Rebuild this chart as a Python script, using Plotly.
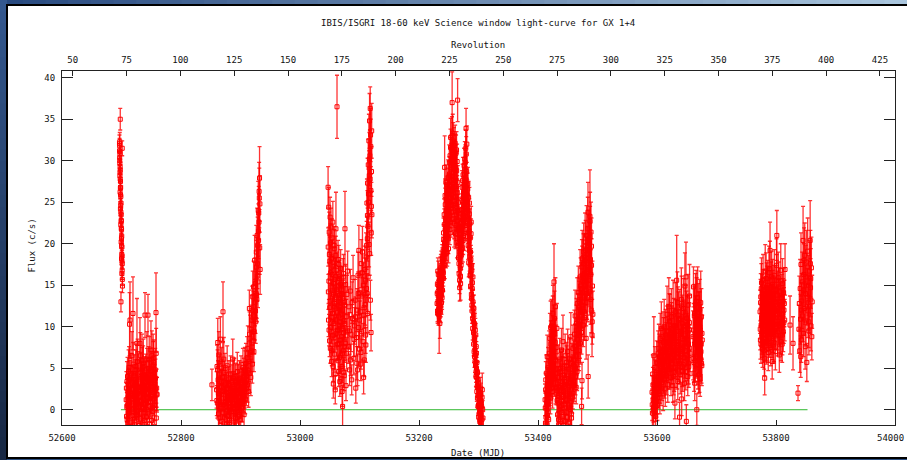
import plotly.graph_objects as go

# ---- IBIS/ISGRI light curve of GX 1+4: MJD, flux (c/s), 1-sigma error ----
# one block per visibility window (a second block "x" per window holds the
# remaining science windows of the same period)

mjd_w1 = [52696.6, 52696.8, 52696.9, 52697.1, 52697.2, 52697.4, 52697.5, 52697.7, 52697.8, 52698.0,
          52698.1, 52698.3, 52698.4, 52698.6, 52698.7, 52698.9, 52699.0, 52699.2, 52699.3, 52699.5,
          52699.6, 52699.8, 52699.9, 52700.1, 52700.2, 52700.4, 52700.5, 52700.7, 52700.8, 52701.0,
          52701.1, 52701.3, 52701.4, 52701.6, 52697.9, 52699.1]
flux_w1 = [32.1, 31.8, 30.4, 32.3, 29.7, 30.9, 28.6, 29.3, 27.8, 28.9,
           26.7, 27.5, 25.9, 26.8, 24.6, 25.7, 23.8, 24.9, 22.7, 23.5,
           21.9, 22.8, 20.6, 21.7, 19.8, 20.9, 18.7, 19.6, 17.9, 18.5,
           16.8, 17.6, 15.7, 14.9, 35.0, 13.0]
err_w1 = [1.0, 0.9, 0.9, 1.1, 0.8, 0.9, 0.8, 0.9, 0.8, 0.9,
          0.8, 0.8, 0.8, 0.9, 0.8, 0.8, 0.7, 0.8, 0.7, 0.8,
          0.7, 0.8, 0.7, 0.7, 0.7, 0.8, 0.7, 0.7, 0.7, 0.7,
          0.6, 0.7, 0.7, 0.8, 1.3, 1.2]
mjd_w1x = [52696.7, 52697.0, 52697.3, 52697.6, 52698.2, 52698.8, 52699.4, 52700.0, 52700.6, 52701.2]
flux_w1x = [31.2, 30.0, 28.2, 26.2, 24.2, 22.3, 20.2, 18.2, 16.4, 31.5]
err_w1x = [0.9, 0.9, 0.8, 0.8, 0.8, 0.7, 0.7, 0.7, 0.7, 0.9]

mjd_w2 = [52707.9, 52708.5, 52709.2, 52709.7, 52710.5, 52711.1, 52711.9, 52712.3, 52713.0, 52714.3,
          52714.9, 52715.6, 52717.6, 52718.0, 52719.3, 52719.9, 52720.4, 52721.2, 52721.8, 52722.5,
          52723.1, 52723.9, 52724.4, 52725.2, 52726.0, 52726.6, 52727.3, 52727.8, 52728.6, 52731.0,
          52729.7, 52731.6, 52732.2, 52732.9, 52733.5, 52734.1, 52734.8, 52735.4, 52736.1, 52736.7,
          52737.3, 52738.0, 52738.6, 52739.5, 52740.1, 52740.8, 52741.4, 52742.0, 52742.7, 52743.3,
          52744.5, 52745.0, 52745.7, 52746.3, 52746.9, 52747.6, 52748.2, 52748.8, 52749.5, 52750.1,
          52751.0, 52751.6, 52752.2, 52752.9, 52753.5, 52754.1, 52754.8, 52755.4, 52756.0, 52756.7,
          52757.3, 52758.0, 52758.5, 52759.1, 52759.6, 52713.6, 52725.6, 52734.4, 52747.1, 52753.2]
flux_w2 = [1.2, -0.8, 3.4, 0.5, -1.6, 2.1, 4.6, 0.9, -0.3, 10.8,
           1.7, 3.0, 6.5, -2.2, 11.6, 2.4, 0.2, 4.1, -1.1, 1.5,
           3.6, 0.7, 5.2, -0.6, 8.0, 2.7, 1.1, 4.4, 0.3, 8.0,
           -1.9, 6.5, 2.2, 3.8, 1.0, -0.4, 4.9, 2.6, 0.6, 5.6,
           1.9, -1.3, 3.3, 11.4, 0.8, 4.2, 2.0, -0.9, 6.1, 2.9,
           11.4, 1.4, 5.0, 3.5, -1.7, 0.4, 4.7, 2.3, 7.2, 1.6,
           6.5, 3.9, -0.2, 2.8, 5.4, 1.3, 4.0, 0.1, 3.1, 4.8,
           2.5, 11.7, -1.0, 2.6, 1.8, 10.3, 0.9, 5.9, 3.7, 6.2]
err_w2 = [2.1, 1.8, 2.4, 1.9, 1.7, 2.2, 2.6, 1.9, 1.8, 4.6,
          2.0, 2.3, 2.9, 1.6, 4.4, 2.2, 1.9, 2.5, 1.8, 2.0,
          2.4, 1.9, 2.7, 1.8, 5.4, 2.3, 2.0, 2.6, 1.9, 3.1,
          1.7, 2.8, 2.1, 2.4, 2.0, 1.8, 2.6, 2.2, 1.9, 2.9,
          2.1, 1.7, 2.4, 2.7, 1.9, 2.5, 2.2, 1.8, 3.3, 2.3,
          2.5, 2.0, 2.6, 2.4, 1.7, 1.9, 2.7, 2.2, 3.5, 2.0,
          3.0, 2.4, 1.8, 2.3, 2.8, 2.0, 2.5, 1.9, 2.3, 2.6,
          2.2, 4.8, 1.8, 2.3, 2.1, 3.8, 1.9, 3.2, 2.5, 2.9]
mjd_w2x = [52708.2, 52709.0, 52709.5, 52710.1, 52710.8, 52711.5, 52712.1, 52712.7, 52713.3, 52714.0,
           52714.6, 52715.3, 52716.0, 52716.6, 52717.2, 52718.4, 52719.0, 52719.6, 52720.9, 52721.5,
           52722.2, 52722.8, 52723.5, 52724.1, 52724.8, 52725.9, 52726.3, 52727.0, 52728.2, 52729.0,
           52729.3, 52730.4, 52731.3, 52732.6, 52733.2, 52734.4, 52735.1, 52735.7, 52736.4, 52737.6,
           52738.3, 52739.2, 52740.4, 52741.1, 52741.7, 52742.4, 52743.0, 52743.9, 52745.3, 52746.6,
           52748.5, 52749.2, 52750.5, 52751.3, 52752.6, 52754.4, 52755.7, 52757.0, 52758.3, 52759.4]
flux_w2x = [2.6, 0.3, -1.2, 4.0, 1.4, -0.4, 2.9, 5.1, 0.8, 3.7,
            -1.5, 1.9, 4.4, 0.0, 2.5, 3.2, -0.7, 5.5, 1.6, 3.0,
            -1.8, 2.2, 0.6, 4.8, 1.3, 3.4, -0.2, 5.8, 2.0, 0.4,
            3.6, 1.1, -1.0, 4.5, 2.7, 0.2, 3.1, -1.6, 5.2, 1.8,
            4.1, 0.7, 2.4, -0.8, 3.9, 1.5, 4.9, 0.0, 2.8, 6.0,
            1.0, 3.3, -1.3, 4.6, 2.1, 5.7, 0.5, 3.8, 6.8, 1.9]
err_w2x = [2.0, 1.8, 1.7, 2.3, 1.9, 1.8, 2.1, 2.5, 1.9, 2.2,
           1.7, 2.0, 2.4, 1.8, 2.1, 2.2, 1.8, 2.6, 1.9, 2.1,
           1.7, 2.0, 1.8, 2.4, 1.9, 2.2, 1.8, 2.7, 2.0, 1.8,
           2.3, 1.9, 1.7, 2.4, 2.1, 1.8, 2.2, 1.7, 2.5, 2.0,
           2.3, 1.8, 2.1, 1.8, 2.3, 1.9, 2.5, 1.8, 2.1, 2.8,
           1.9, 2.2, 1.7, 2.4, 2.0, 2.7, 1.8, 2.3, 3.0, 2.0]

mjd_w3 = [52852.0, 52859.8, 52860.5, 52861.1, 52861.8, 52862.4, 52863.0, 52863.7, 52864.3, 52864.9,
          52865.6, 52866.2, 52866.8, 52867.5, 52868.1, 52868.7, 52869.4, 52870.6, 52871.2, 52871.9,
          52872.5, 52873.1, 52873.8, 52874.4, 52875.0, 52875.7, 52876.3, 52876.9, 52877.6, 52878.2,
          52878.8, 52879.5, 52880.1, 52880.7, 52881.4, 52882.0, 52882.6, 52883.3, 52883.9, 52884.5,
          52885.2, 52885.8, 52887.0, 52887.6, 52888.3, 52888.9, 52889.5, 52890.2, 52890.8, 52891.4,
          52892.1, 52892.7, 52893.3, 52894.0, 52894.6, 52895.2, 52895.9, 52896.5, 52897.1, 52897.8,
          52898.4, 52899.0, 52899.7, 52900.3, 52900.9, 52901.6, 52902.2, 52902.8, 52903.5, 52904.1,
          52904.7, 52905.4, 52906.0, 52906.6, 52907.3, 52907.9, 52908.5, 52909.2, 52909.8, 52910.4,
          52911.1, 52911.7, 52912.3, 52913.0, 52913.6, 52914.2, 52914.9, 52915.5, 52916.1, 52916.8,
          52917.4, 52918.0, 52918.7, 52919.3, 52919.9, 52920.6, 52921.2, 52921.8, 52922.5, 52923.1,
          52923.7, 52924.4, 52925.0, 52925.6, 52926.3, 52926.9, 52927.5, 52928.2, 52928.8, 52929.4,
          52930.1, 52930.7, 52931.3, 52932.0, 52932.6, 52928.5, 52930.4, 52931.0, 52927.2, 52925.3]
flux_w3 = [3.0, 2.4, 5.2, 0.8, 8.1, 3.6, -0.5, 6.6, 1.9, 4.3,
           0.2, 8.5, 2.8, -1.4, 5.0, 1.3, 3.9, 11.8, 0.6, 6.1,
           2.2, -0.9, 4.5, 1.0, 3.2, -1.8, 2.5, 0.4, 5.3, 1.6,
           -0.7, 2.9, 0.9, 3.7, -1.5, 1.8, 0.3, 4.2, 2.1, -0.4,
           1.4, 3.3, 6.1, 0.7, -1.1, 2.6, 4.0, 1.2, -0.2, 3.5,
           0.5, 2.3, -1.7, 1.9, 4.6, 0.1, 2.8, 3.4, -0.8, 1.5,
           3.8, 0.8, 2.0, -1.2, 4.3, 1.1, 3.0, 0.2, 2.4, 5.1,
           1.7, 3.6, -0.6, 2.7, 4.9, 1.3, 3.2, 5.6, 2.5, 4.1,
           6.3, 3.0, 7.4, 4.7, 2.2, 5.8, 12.2, 4.4, 8.6, 6.9,
           3.9, 9.7, 7.1, 10.8, 5.5, 13.6, 8.3, 11.4, 7.0, 9.4,
           18.0, 12.9, 15.2, 10.6, 14.0, 17.2, 13.3, 16.1, 19.8, 15.4,
           21.5, 23.7, 26.3, 27.9, 24.8, 17.6, 20.4, 22.6, 13.8, 11.9]
err_w3 = [1.9, 2.2, 2.6, 1.8, 2.9, 2.3, 1.7, 2.8, 2.0, 2.4,
          1.8, 2.7, 2.1, 1.6, 2.5, 1.9, 2.2, 3.6, 1.8, 2.6,
          2.0, 1.7, 2.3, 1.8, 2.1, 1.6, 2.0, 1.8, 2.4, 1.9,
          1.7, 2.0, 1.8, 2.2, 1.6, 1.9, 1.7, 2.3, 2.0, 1.7,
          1.9, 2.1, 2.4, 1.8, 1.6, 2.0, 2.2, 1.9, 1.7, 2.1,
          1.8, 2.0, 1.6, 1.9, 2.3, 1.7, 2.0, 2.1, 1.7, 1.9,
          2.1, 1.8, 1.9, 1.6, 2.2, 1.8, 2.0, 1.7, 1.9, 2.3,
          1.9, 2.1, 1.7, 2.0, 2.6, 1.8, 2.2, 2.4, 2.0, 2.3,
          2.5, 2.1, 2.7, 2.3, 1.9, 2.4, 2.2, 2.3, 2.8, 2.6,
          2.2, 2.9, 2.5, 3.0, 2.3, 3.1, 2.6, 2.9, 2.4, 2.7,
          3.0, 2.8, 3.1, 2.6, 2.9, 3.2, 2.7, 3.0, 3.4, 3.1,
          3.3, 3.2, 3.5, 3.8, 3.4, 3.0, 3.2, 3.3, 2.8, 2.7]
mjd_w3x = [52860.2, 52861.5, 52862.8, 52864.0, 52865.2, 52866.5, 52867.8, 52869.0, 52870.2, 52871.5,
           52872.8, 52874.0, 52875.3, 52876.6, 52877.9, 52879.2, 52880.4, 52881.7, 52883.0, 52884.2,
           52885.5, 52886.7, 52888.0, 52889.2, 52890.5, 52891.7, 52893.0, 52894.3, 52895.6, 52896.8,
           52898.1, 52899.3, 52900.6, 52901.9, 52903.2, 52904.4, 52905.7, 52907.0, 52908.2, 52909.5,
           52915.2, 52919.6, 52922.0, 52924.0, 52926.6, 52928.0, 52929.8, 52931.6, 52932.3, 52933.0]
flux_w3x = [1.1, 4.8, 2.0, -1.0, 3.4, 0.6, 2.7, -0.4, 5.6, 1.8,
            -1.6, 3.0, 0.9, 2.1, -0.8, 1.5, 3.1, -1.3, 0.8, 2.6,
            -0.2, 1.9, 3.8, 0.1, 2.3, -1.0, 1.2, 3.3, 0.5, 2.0,
            -0.6, 1.6, 3.5, 0.3, 2.8, 1.0, 3.9, 2.2, 4.7, 3.6,
            9.1, 12.0, 14.8, 11.2, 19.0, 21.0, 24.0, 25.5, 19.5, 16.9]
err_w3x = [1.8, 2.4, 1.9, 1.7, 2.2, 1.8, 2.1, 1.7, 2.5, 1.9,
           1.6, 2.1, 1.8, 2.0, 1.7, 1.9, 2.1, 1.6, 1.8, 2.0,
           1.7, 1.9, 2.2, 1.7, 2.0, 1.6, 1.8, 2.1, 1.7, 1.9,
           1.7, 1.9, 2.2, 1.7, 2.1, 1.8, 2.3, 2.0, 2.4, 2.2,
           2.7, 2.9, 3.1, 2.8, 3.2, 3.3, 3.5, 3.6, 3.2, 3.0]

mjd_w4 = [53047.2, 53047.7, 53048.3, 53048.8, 53049.4, 53049.9, 53050.5, 53051.0, 53051.6, 53052.1,
          53052.7, 53053.2, 53053.8, 53054.3, 53054.9, 53055.4, 53056.0, 53056.5, 53057.1, 53057.6,
          53058.2, 53058.7, 53059.3, 53059.8, 53060.4, 53060.9, 53061.5, 53062.2, 53062.8, 53063.3,
          53063.9, 53064.4, 53065.0, 53065.5, 53066.1, 53066.6, 53067.2, 53067.7, 53068.3, 53068.8,
          53069.4, 53069.9, 53070.5, 53071.0, 53071.6, 53072.1, 53072.7, 53073.2, 53073.8, 53074.3,
          53074.9, 53075.6, 53076.2, 53076.7, 53077.3, 53077.8, 53078.4, 53078.9, 53079.5, 53080.0,
          53081.1, 53082.3, 53083.4, 53084.6, 53085.7, 53086.9, 53088.0, 53089.2, 53090.3, 53091.5,
          53092.6, 53093.8, 53094.9, 53096.0, 53096.8, 53097.5, 53098.3, 53099.0, 53099.8, 53100.5,
          53101.3, 53102.0, 53102.8, 53103.5, 53104.3, 53105.0, 53105.8, 53106.5, 53107.3, 53108.0,
          53108.8, 53109.5, 53110.3, 53111.0, 53111.8, 53112.5, 53113.1, 53113.6, 53114.2, 53114.7,
          53115.3, 53115.8, 53116.4, 53116.9, 53117.5, 53118.0, 53118.6, 53119.1, 53119.7, 53120.2,
          53120.8, 53117.2, 53118.3, 53116.1, 53119.4, 53114.5, 53113.9, 53112.8, 53110.7, 53106.9]
flux_w4 = [26.8, 14.2, 24.4, 9.6, 18.7, 12.3, 23.2, 7.4, 16.5, 22.0,
           11.1, 5.8, 20.7, 13.6, 8.9, 17.3, 3.1, 15.2, 10.4, 19.4,
           6.7, 12.8, 2.4, 16.0, 21.8, 9.2, 14.5, 36.5, 11.7, 7.9,
           18.1, 13.0, 4.6, 10.2, 15.8, 6.3, 12.1, 8.4, 17.0, 3.7,
           11.5, 14.9, 5.2, 9.8, 0.4, 13.4, 7.1, 16.4, 10.7, 4.1,
           12.6, 21.8, 8.0, 15.1, 2.9, 11.2, 6.8, 13.9, 9.5, 16.7,
           7.6, 12.4, 4.8, 14.3, 9.1, 3.6, 11.0, 15.9, 6.2, 10.1,
           13.2, 2.6, 8.7, 12.0, 4.8, 16.2, 9.9, 19.2, 7.3, 14.1,
           11.8, 5.5, 17.6, 9.4, 13.7, 19.0, 8.2, 15.0, 11.4, 6.0,
           16.9, 12.7, 9.0, 18.4, 14.6, 24.9, 20.6, 27.3, 22.1, 29.5,
           25.0, 32.4, 28.2, 34.8, 30.6, 36.3, 33.1, 26.4, 21.3, 28.7,
           23.5, 18.8, 13.2, 19.9, 9.3, 16.0, 11.6, 14.0, 7.8, 3.9]
err_w4 = [2.5, 2.1, 2.4, 1.9, 2.3, 2.0, 2.4, 1.8, 2.2, 2.3,
          2.0, 1.8, 2.3, 2.1, 1.9, 2.2, 1.7, 2.1, 2.0, 2.3,
          1.8, 2.1, 1.7, 2.2, 4.4, 1.9, 2.1, 3.8, 2.0, 1.9,
          2.3, 2.1, 1.8, 2.0, 2.2, 1.9, 2.1, 1.9, 2.3, 1.8,
          2.1, 2.3, 1.9, 2.0, 2.5, 2.2, 1.9, 2.3, 2.0, 1.8,
          2.2, 4.5, 2.0, 2.4, 1.8, 2.1, 1.9, 2.3, 2.0, 2.4,
          2.0, 2.4, 1.9, 2.6, 2.1, 1.8, 2.3, 2.7, 2.0, 2.2,
          2.5, 1.8, 2.2, 2.6, 1.9, 2.8, 2.3, 3.0, 2.1, 2.6,
          2.4, 2.0, 2.9, 2.2, 2.6, 3.1, 2.2, 2.7, 2.4, 2.0,
          2.8, 2.5, 2.2, 2.9, 2.6, 2.9, 2.7, 3.0, 2.8, 3.1,
          2.9, 3.2, 3.0, 3.3, 3.1, 2.6, 3.2, 2.9, 2.7, 3.0,
          2.8, 2.6, 2.4, 2.7, 2.2, 2.5, 2.3, 2.4, 2.1, 2.0]
mjd_w4x = [53047.4, 53048.0, 53048.6, 53049.1, 53049.7, 53050.2, 53050.8, 53051.3, 53051.9, 53052.4,
           53053.0, 53053.5, 53054.1, 53054.6, 53055.2, 53055.7, 53056.3, 53056.8, 53057.4, 53057.9,
           53058.5, 53059.0, 53059.6, 53060.1, 53060.7, 53061.2, 53061.8, 53063.0, 53063.6, 53064.1,
           53064.7, 53065.3, 53065.8, 53066.4, 53066.9, 53067.5, 53068.0, 53068.6, 53069.1, 53069.7,
           53070.2, 53070.8, 53071.3, 53071.9, 53072.4, 53073.0, 53073.5, 53074.1, 53074.6, 53075.2,
           53082.9, 53085.1, 53087.5, 53090.9, 53093.2, 53095.5, 53097.9, 53100.2, 53102.4, 53104.7,
           53107.7, 53109.9, 53112.0, 53113.3, 53115.0, 53116.6, 53117.8, 53119.0, 53120.0, 53120.5]
flux_w4x = [19.6, 10.8, 15.5, 21.4, 8.3, 17.9, 13.1, 20.1, 9.9, 14.8,
            18.2, 7.1, 16.3, 11.6, 22.6, 5.2, 13.9, 9.0, 19.8, 12.4,
            15.7, 4.3, 10.8, 18.6, 7.8, 13.5, 16.8, 9.6, 14.2, 5.9,
            11.3, 17.5, 7.9, 13.8, 3.4, 10.6, 15.1, 6.5, 12.9, 8.8,
            14.0, 2.2, 11.9, 6.8, 16.0, 9.3, 4.5, 13.1, 7.6, 10.4,
            9.5, 6.0, 12.9, 8.5, 11.2, 5.6, 14.0, 10.8, 6.9, 16.5,
            12.3, 15.6, 19.8, 23.4, 26.0, 30.2, 27.8, 31.7, 24.5, 33.6]
err_w4x = [2.3, 2.0, 2.2, 2.4, 1.9, 2.3, 2.1, 2.3, 1.9, 2.1,
           2.2, 1.8, 2.2, 2.0, 2.5, 1.8, 2.1, 1.9, 2.3, 2.0,
           2.2, 1.8, 2.0, 2.3, 1.9, 2.1, 2.2, 1.9, 2.1, 1.8,
           2.0, 2.3, 1.9, 2.1, 1.8, 2.0, 2.2, 1.9, 2.1, 1.9,
           2.1, 1.8, 2.1, 1.9, 2.2, 2.0, 1.8, 2.1, 1.9, 2.0,
           2.2, 1.9, 2.5, 2.1, 2.4, 2.0, 2.6, 2.3, 2.0, 2.8,
           2.5, 2.7, 2.9, 3.0, 3.0, 3.2, 3.1, 3.3, 2.9, 3.3]

mjd_w5 = [53230.4, 53230.9, 53231.4, 53231.9, 53232.4, 53232.9, 53233.4, 53233.9, 53234.4, 53235.0,
          53235.5, 53236.0, 53236.5, 53237.0, 53237.5, 53238.0, 53238.5, 53239.0, 53239.5, 53240.0,
          53240.5, 53241.0, 53241.5, 53242.0, 53242.5, 53243.1, 53243.6, 53244.1, 53244.6, 53245.1,
          53245.6, 53246.1, 53246.6, 53247.1, 53247.6, 53248.1, 53248.6, 53249.1, 53249.6, 53250.1,
          53250.6, 53251.2, 53251.7, 53252.2, 53252.7, 53253.2, 53253.7, 53254.2, 53254.7, 53255.2,
          53255.7, 53256.2, 53256.7, 53257.2, 53257.7, 53258.2, 53258.8, 53259.3, 53259.8, 53260.3,
          53260.8, 53261.3, 53261.8, 53262.3, 53262.8, 53263.3, 53263.8, 53264.3, 53264.9, 53265.4,
          53265.9, 53266.4, 53266.9, 53267.4, 53267.9, 53268.4, 53268.9, 53269.4, 53269.9, 53270.4,
          53270.9, 53271.4, 53272.0, 53272.5, 53273.0, 53273.5, 53274.0, 53274.5, 53275.0, 53275.5,
          53276.0, 53276.5, 53277.0, 53277.5, 53278.1, 53278.6, 53279.1, 53279.6, 53280.1, 53280.6,
          53281.1, 53281.6, 53282.1, 53282.6, 53283.1, 53283.6, 53284.2, 53284.7, 53285.2, 53285.7,
          53286.2, 53286.7, 53287.2, 53287.7, 53288.2, 53288.7, 53289.2, 53289.8, 53290.3, 53290.8,
          53291.3, 53291.8, 53292.3, 53292.8, 53293.3, 53293.8, 53294.3, 53294.9, 53295.4, 53295.9,
          53296.4, 53296.9, 53297.4, 53297.9, 53298.4, 53298.9, 53299.4, 53300.0, 53300.5, 53301.0,
          53301.5, 53302.0, 53302.5, 53303.0, 53303.5, 53304.0, 53304.6, 53305.2, 53306.3, 53307.5]
flux_w5 = [12.8, 15.1, 11.6, 14.2, 16.3, 12.1, 13.7, 11.2, 15.6, 10.4,
           13.3, 16.8, 12.5, 14.9, 17.4, 13.8, 15.7, 18.2, 14.4, 16.9,
           19.1, 15.8, 20.5, 17.6, 22.3, 29.2, 18.9, 24.7, 21.4, 27.4,
           19.7, 25.3, 22.0, 23.6, 20.8, 26.1, 22.8, 24.2, 19.4, 27.8,
           23.9, 28.4, 21.7, 30.6, 25.5, 32.8, 24.3, 29.5, 26.9, 31.4,
           37.0, 28.1, 33.3, 24.6, 30.2, 27.3, 31.8, 22.4, 29.0, 25.7,
           32.1, 21.2, 27.6, 30.9, 23.5, 28.8, 20.1, 26.2, 37.3, 24.0,
           21.8, 18.3, 23.7, 16.4, 20.6, 14.7, 19.2, 17.0, 15.2, 22.5,
           18.6, 24.1, 20.3, 26.8, 22.9, 19.5, 28.3, 23.4, 25.6, 21.0,
           27.0, 24.5, 30.2, 22.2, 26.5, 31.5, 33.9, 25.1, 28.7, 23.3,
           25.8, 20.9, 27.2, 19.8, 23.0, 17.7, 21.5, 24.9, 18.4, 16.2,
           20.7, 14.9, 18.1, 22.6, 13.4, 16.8, 11.9, 15.3, 9.8, 13.0,
           10.6, 7.9, 12.2, 8.8, 6.4, 10.1, 7.2, 5.3, 9.0, 4.6,
           6.8, 3.9, 5.7, 2.8, 4.5, 1.7, 3.2, 0.6, 2.3, -0.5,
           1.4, -1.2, 0.3, 2.6, -0.8, 1.1, -1.6, 0.4, 2.4, -1.0]
err_w5 = [1.3, 1.5, 1.2, 1.4, 1.6, 1.3, 1.4, 4.4, 1.5, 1.8,
          1.4, 1.6, 1.3, 1.5, 1.7, 1.4, 1.5, 1.7, 1.4, 1.6,
          1.7, 1.5, 1.8, 1.6, 1.9, 3.8, 1.7, 2.0, 1.8, 2.1,
          1.7, 2.0, 1.8, 1.9, 1.7, 2.0, 1.9, 2.0, 1.7, 2.1,
          1.9, 2.1, 1.8, 2.2, 2.0, 2.3, 1.9, 2.1, 2.0, 2.2,
          3.7, 2.1, 2.3, 1.9, 2.2, 2.0, 2.2, 1.8, 2.1, 2.0,
          2.2, 1.8, 2.1, 2.2, 1.9, 2.1, 1.8, 2.0, 2.6, 1.9,
          1.8, 1.7, 1.9, 1.6, 1.8, 1.6, 1.7, 1.6, 2.0, 1.8,
          1.7, 1.9, 1.8, 2.0, 1.9, 1.7, 2.1, 1.9, 2.0, 1.8,
          2.0, 1.9, 2.1, 1.8, 2.0, 2.2, 2.4, 1.9, 2.1, 1.8,
          1.9, 1.8, 2.0, 1.7, 1.9, 1.7, 1.8, 1.9, 1.7, 1.6,
          1.8, 1.6, 1.7, 1.9, 1.5, 1.7, 1.5, 1.6, 1.4, 1.5,
          1.5, 1.4, 1.6, 1.4, 1.3, 1.5, 1.4, 1.3, 1.4, 1.3,
          1.4, 1.2, 1.3, 1.2, 1.3, 1.1, 1.2, 1.1, 1.2, 1.1,
          1.2, 1.1, 1.1, 1.3, 1.1, 1.2, 1.1, 1.2, 2.0, 1.3]
mjd_w5x = [53230.6, 53231.2, 53231.7, 53232.2, 53232.7, 53233.2, 53233.7, 53234.2, 53234.7, 53235.3,
           53235.8, 53236.3, 53236.8, 53237.3, 53237.8, 53238.3, 53238.8, 53239.3, 53239.8, 53240.3,
           53240.8, 53241.3, 53241.8, 53242.3, 53242.8, 53243.4, 53243.9, 53244.4, 53244.9, 53245.4,
           53245.9, 53246.4, 53246.9, 53247.4, 53247.9, 53248.4, 53248.9, 53249.4, 53249.9, 53250.4,
           53250.9, 53251.5, 53252.0, 53252.5, 53253.0, 53253.5, 53254.0, 53254.5, 53255.0, 53255.5,
           53256.0, 53256.5, 53257.0, 53257.5, 53258.0, 53258.5, 53259.1, 53259.6, 53260.1, 53260.6,
           53261.1, 53261.6, 53262.1, 53262.6, 53263.1, 53263.6, 53264.1, 53264.6, 53265.2, 53265.7,
           53266.2, 53266.7, 53267.2, 53267.7, 53268.2, 53268.7, 53269.2, 53269.7, 53270.2, 53270.7,
           53271.2, 53271.7, 53272.3, 53272.8, 53273.3, 53273.8, 53274.3, 53274.8, 53275.3, 53275.8,
           53276.3, 53276.8, 53277.3, 53277.8, 53278.4, 53278.9, 53279.4, 53279.9, 53280.4, 53280.9,
           53281.4, 53281.9, 53282.4, 53282.9, 53283.4, 53283.9, 53284.5, 53285.0, 53285.5, 53286.0,
           53286.5, 53287.0, 53287.5, 53288.0, 53288.5, 53289.0, 53289.5, 53290.1, 53290.6, 53291.1,
           53291.6, 53292.1, 53292.6, 53293.1, 53293.6, 53294.1, 53294.6, 53295.2, 53295.7, 53296.2,
           53296.7, 53297.2, 53297.7, 53298.2, 53298.7, 53299.2, 53299.7, 53300.3, 53300.8, 53301.3,
           53301.8, 53302.3, 53302.8, 53303.3, 53303.8, 53304.3, 53304.9, 53305.6, 53306.0, 53307.0]
flux_w5x = [14.0, 11.9, 16.7, 13.1, 11.5, 15.0, 12.6, 14.8, 12.0, 13.5,
            15.2, 11.8, 17.1, 14.1, 12.9, 16.4, 13.5, 17.8, 15.9, 18.6,
            16.5, 21.3, 18.2, 23.5, 20.0, 17.4, 25.8, 20.3, 23.1, 18.8,
            24.0, 21.2, 27.1, 19.0, 25.2, 22.3, 28.0, 20.6, 26.4, 22.9,
            29.8, 23.4, 27.0, 25.0, 31.6, 22.6, 30.0, 27.6, 23.8, 33.0,
            26.4, 30.9, 23.0, 32.4, 25.6, 29.6, 21.4, 30.4, 26.6, 31.0,
            24.8, 29.2, 22.2, 26.9, 31.3, 24.4, 29.9, 22.7, 27.4, 19.8,
            25.0, 20.0, 17.6, 22.0, 15.6, 18.8, 21.2, 16.1, 19.9, 17.4,
            21.6, 19.3, 25.2, 22.0, 27.6, 24.2, 20.4, 26.2, 22.8, 29.4,
            25.5, 28.4, 23.2, 29.8, 24.2, 27.7, 30.8, 26.0, 32.0, 27.1,
            22.4, 26.6, 24.0, 21.3, 25.6, 20.4, 23.6, 19.1, 22.4, 17.5,
            19.0, 16.3, 21.2, 13.9, 17.4, 12.6, 14.6, 11.0, 16.0, 12.3,
            9.3, 11.4, 7.0, 10.4, 8.4, 5.8, 9.6, 6.6, 4.0, 7.6,
            5.0, 2.2, 4.4, 1.4, 3.6, 0.4, 2.7, -0.9, 1.7, 0.2,
            -0.3, 1.8, -1.4, 0.9, 2.0, -0.6, 0.8, -1.2, 1.5, 0.0]
err_w5x = [1.4, 1.3, 1.6, 1.4, 1.3, 1.5, 1.3, 1.5, 1.3, 1.4,
           1.5, 1.3, 1.6, 1.4, 1.4, 1.6, 1.4, 1.7, 1.5, 1.7,
           1.6, 1.8, 1.7, 1.9, 1.8, 1.6, 2.0, 1.8, 1.9, 1.7,
           1.9, 1.8, 2.0, 1.7, 1.9, 1.8, 2.1, 1.8, 2.0, 1.9,
           2.1, 1.9, 2.0, 1.9, 2.2, 1.8, 2.1, 2.0, 1.9, 2.3,
           2.0, 2.2, 1.9, 2.2, 2.0, 2.1, 1.8, 2.1, 2.0, 2.2,
           1.9, 2.1, 1.8, 2.0, 2.2, 1.9, 2.1, 1.8, 2.0, 1.7,
           1.9, 1.7, 1.6, 1.8, 1.6, 1.7, 1.8, 1.6, 1.7, 1.6,
           1.8, 1.7, 1.9, 1.8, 2.0, 1.9, 1.7, 1.9, 1.8, 2.1,
           1.9, 2.0, 1.8, 2.1, 1.9, 2.0, 2.1, 1.9, 2.2, 2.0,
           1.8, 1.9, 1.8, 1.7, 1.9, 1.7, 1.8, 1.6, 1.8, 1.6,
           1.7, 1.6, 1.8, 1.5, 1.6, 1.5, 1.5, 1.4, 1.6, 1.5,
           1.4, 1.5, 1.3, 1.4, 1.4, 1.3, 1.4, 1.3, 1.2, 1.3,
           1.3, 1.2, 1.3, 1.1, 1.2, 1.1, 1.2, 1.1, 1.2, 1.1,
           1.1, 1.2, 1.1, 1.1, 1.2, 1.1, 1.1, 1.1, 1.2, 1.1]

mjd_w6 = [53411.9, 53412.5, 53413.1, 53413.7, 53414.3, 53414.9, 53415.5, 53416.1, 53416.7, 53417.3,
          53417.9, 53418.5, 53419.1, 53419.7, 53420.3, 53420.9, 53421.5, 53422.1, 53422.7, 53423.3,
          53423.9, 53424.5, 53425.1, 53425.7, 53426.3, 53426.9, 53427.5, 53428.1, 53428.7, 53429.3,
          53429.9, 53430.5, 53431.1, 53431.7, 53432.3, 53432.9, 53433.5, 53434.1, 53434.7, 53435.3,
          53435.9, 53436.5, 53437.1, 53437.7, 53438.3, 53438.9, 53439.5, 53440.1, 53440.7, 53441.3,
          53442.0, 53442.6, 53443.2, 53443.8, 53444.4, 53445.0, 53445.6, 53446.2, 53446.8, 53447.4,
          53448.0, 53448.6, 53449.2, 53449.8, 53450.4, 53451.0, 53451.6, 53452.2, 53452.8, 53453.4,
          53454.0, 53454.6, 53455.2, 53455.8, 53456.4, 53457.0, 53457.6, 53458.2, 53458.8, 53459.4,
          53460.0, 53460.6, 53461.2, 53461.8, 53462.4, 53463.0, 53463.6, 53464.2, 53464.8, 53465.4,
          53466.0, 53466.6, 53467.2, 53467.8, 53468.4, 53469.0, 53469.6, 53470.2, 53470.8, 53471.4,
          53472.0, 53472.6, 53473.2, 53473.8, 53474.4, 53475.0, 53475.6, 53476.2, 53476.8, 53477.4,
          53478.0, 53478.6, 53479.2, 53479.8, 53480.4, 53481.0, 53481.6, 53482.2, 53482.8, 53483.4,
          53484.0, 53484.6, 53485.2, 53485.8, 53486.4, 53487.0, 53487.6, 53488.2, 53488.8, 53489.4,
          53490.0, 53490.8, 53491.5, 53492.2, 53474.0, 53473.3, 53484.3, 53487.3, 53489.9, 53480.9]
flux_w6 = [1.2, -1.6, 3.6, 0.4, -2.3, 2.1, 6.4, -0.7, 1.8, 3.0,
           -1.2, 0.9, 4.2, 2.5, 5.8, 1.4, 7.9, 3.3, 10.1, 4.7,
           6.6, 2.2, 11.6, 8.3, 5.1, 15.4, 3.7, 9.2, 6.0, 12.4,
           4.4, 7.5, 2.6, 9.8, 3.1, -0.6, 5.4, 1.7, -1.8, 3.9,
           0.8, 6.1, 2.3, -1.4, 4.6, 1.0, 7.2, -0.3, 3.4, 5.0,
           8.2, 1.6, -1.9, 4.1, 2.8, 0.2, 6.5, -2.1, 3.0, 1.3,
           5.3, -0.9, 2.0, 7.0, 0.6, 3.8, -1.5, 4.9, 1.9, 6.2,
           0.0, 3.2, 8.8, 2.4, -1.0, 5.6, 1.5, 4.4, 7.4, 2.9,
           6.0, 3.5, 9.1, 5.2, 11.3, 4.0, 7.7, 2.7, 10.4, 6.6,
           12.8, 8.5, 5.9, 14.1, 9.6, 7.1, 13.0, 10.7, 16.0, 8.0,
           11.9, 14.6, 9.3, 17.2, 18.2, 12.5, 15.5, 10.2, 19.0, 13.7,
           16.4, 11.1, 20.2, 14.8, 17.9, 12.9, 21.0, 15.6, 18.7, 13.5,
           23.8, 16.9, 20.6, 19.3, 20.0, 14.2, 22.7, 18.1, 16.3, 12.0,
           17.4, 9.0, 14.9, 11.5, 3.5, 0.4, 4.0, 23.3, 19.7, 8.6]
err_w6 = [1.9, 1.7, 2.2, 1.8, 1.6, 2.0, 2.6, 1.7, 1.9, 2.1,
          1.7, 1.8, 2.3, 2.0, 2.5, 1.9, 2.8, 2.1, 3.2, 2.4,
          2.6, 2.0, 3.4, 2.9, 2.3, 4.6, 2.1, 3.0, 2.5, 3.5,
          2.3, 2.7, 2.0, 3.0, 2.1, 1.7, 2.4, 1.9, 1.6, 2.2,
          1.8, 2.5, 2.0, 1.7, 2.3, 1.9, 2.6, 1.7, 2.1, 2.3,
          3.2, 1.9, 1.6, 2.2, 2.0, 1.8, 2.6, 1.6, 2.1, 1.9,
          2.4, 1.7, 2.0, 2.7, 1.8, 2.2, 1.6, 2.4, 1.9, 2.5,
          1.8, 2.1, 2.9, 2.0, 1.7, 2.4, 1.9, 2.2, 2.8, 2.1,
          2.4, 2.1, 2.9, 2.3, 3.1, 2.2, 2.6, 2.0, 3.0, 2.4,
          3.1, 2.6, 2.2, 3.2, 2.7, 2.4, 3.0, 2.8, 3.3, 2.5,
          2.9, 3.1, 2.6, 3.3, 3.4, 2.8, 3.1, 2.6, 3.5, 2.9,
          3.2, 2.7, 3.5, 3.0, 3.3, 2.8, 3.6, 3.0, 3.4, 2.9,
          3.6, 3.1, 3.4, 3.3, 3.4, 2.8, 3.5, 3.2, 3.0, 2.7,
          3.2, 2.6, 3.0, 2.8, 2.2, 2.2, 2.6, 5.6, 3.4, 2.5]
mjd_w6x = [53412.2, 53412.8, 53413.4, 53414.0, 53414.6, 53415.2, 53415.8, 53416.4, 53417.0, 53417.6,
           53418.2, 53418.8, 53419.4, 53420.0, 53420.6, 53421.2, 53421.8, 53422.4, 53423.0, 53423.6,
           53424.2, 53424.8, 53425.4, 53426.0, 53426.6, 53427.2, 53427.8, 53428.4, 53429.0, 53429.6,
           53432.0, 53433.2, 53434.4, 53435.6, 53436.8, 53438.0, 53439.2, 53440.4, 53441.6, 53442.9,
           53444.1, 53445.3, 53446.5, 53447.7, 53448.9, 53450.1, 53451.3, 53452.5, 53453.7, 53454.9,
           53456.1, 53457.3, 53458.5, 53459.7, 53460.9, 53462.1, 53463.3, 53464.5, 53465.7, 53466.9,
           53468.1, 53469.3, 53470.5, 53471.7, 53472.9, 53474.1, 53475.3, 53476.5, 53477.7, 53478.9,
           53480.1, 53481.3, 53482.5, 53483.7, 53484.9, 53486.1, 53487.6, 53488.5, 53489.1, 53491.1]
flux_w6x = [0.2, 2.4, -0.9, 4.4, 1.0, -1.8, 3.0, 0.6, 5.1, 2.0,
            3.9, 6.8, 2.9, 8.6, 4.2, 9.9, 5.7, 7.4, 3.6, 8.9,
            5.3, 10.5, 7.0, 4.0, 9.6, 6.3, 11.0, 4.8, 8.1, 2.7,
            1.1, 3.9, -1.2, 2.7, 0.4, 5.0, 1.8, -0.8, 4.2, 2.2,
            0.7, 3.4, -1.4, 5.7, 1.2, 2.9, 0.3, 6.0, 1.6, 3.7,
            -0.5, 4.1, 2.0, 5.4, 3.0, 7.6, 5.0, 9.6, 4.6, 10.9,
            7.9, 12.3, 9.0, 14.9, 11.4, 16.2, 13.0, 17.6, 11.8, 15.0,
            19.2, 16.6, 14.0, 21.8, 17.2, 15.6, 20.8, 13.3, 21.4, 10.6]
err_w6x = [1.8, 2.0, 1.7, 2.2, 1.8, 1.6, 2.1, 1.8, 2.4, 1.9,
           2.2, 2.7, 2.1, 3.0, 2.3, 3.2, 2.5, 2.8, 2.2, 3.0,
           2.4, 3.2, 2.7, 2.2, 3.0, 2.5, 3.3, 2.3, 2.9, 2.0,
           1.8, 2.2, 1.7, 2.0, 1.8, 2.3, 1.9, 1.7, 2.2, 1.9,
           1.8, 2.1, 1.6, 2.4, 1.8, 2.0, 1.7, 2.5, 1.8, 2.1,
           1.7, 2.2, 1.9, 2.4, 2.0, 2.7, 2.3, 3.0, 2.3, 3.1,
           2.7, 3.2, 2.8, 3.4, 3.0, 3.5, 3.1, 3.6, 3.0, 3.3,
           3.6, 3.4, 3.1, 3.8, 3.4, 3.2, 3.7, 3.0, 3.6, 2.7]

mjd_w7 = [53591.7, 53592.3, 53592.9, 53593.5, 53594.1, 53594.7, 53595.3, 53595.9, 53596.5, 53597.1,
          53597.7, 53598.3, 53598.9, 53599.5, 53600.1, 53600.7, 53601.3, 53601.9, 53602.5, 53603.1,
          53603.7, 53604.3, 53604.9, 53605.5, 53606.1, 53606.7, 53607.3, 53607.9, 53608.5, 53609.1,
          53609.7, 53610.3, 53610.9, 53611.5, 53612.1, 53612.7, 53613.3, 53613.9, 53614.5, 53615.1,
          53615.7, 53616.3, 53616.9, 53617.5, 53618.1, 53618.7, 53619.3, 53619.9, 53620.5, 53621.1,
          53621.7, 53622.3, 53622.9, 53623.5, 53624.1, 53624.7, 53625.3, 53625.9, 53626.5, 53627.1,
          53627.7, 53628.3, 53628.9, 53629.5, 53630.1, 53630.7, 53631.3, 53631.9, 53632.5, 53633.1,
          53633.7, 53634.3, 53634.9, 53635.5, 53636.1, 53636.7, 53637.3, 53637.9, 53638.5, 53639.1,
          53639.7, 53640.3, 53640.9, 53641.5, 53642.1, 53642.7, 53643.3, 53643.9, 53644.5, 53645.1,
          53645.7, 53646.3, 53646.9, 53647.5, 53648.1, 53648.7, 53649.3, 53649.9, 53650.5, 53651.1,
          53651.7, 53652.3, 53652.9, 53653.5, 53654.1, 53654.7, 53655.3, 53660.6, 53661.3, 53662.0,
          53662.7, 53663.4, 53664.1, 53664.8, 53665.5, 53666.2, 53666.9, 53667.6, 53668.3, 53669.0,
          53669.7, 53670.4, 53671.1, 53671.8, 53672.5, 53673.2, 53673.9, 53674.6, 53675.3, 53676.0]
flux_w7 = [2.1, -0.4, 4.3, 1.2, 0.3, 6.5, 2.8, 0.9, 5.1, 1.6,
           -0.8, 3.5, 1.0, 5.7, 2.4, 0.5, 4.0, 6.8, 2.2, 7.4,
           3.1, 5.5, 1.5, 8.6, 4.4, 2.6, 9.8, 5.0, 3.3, 7.1,
           6.0, 1.9, 8.1, 4.7, 10.0, 3.6, 6.9, 2.5, 9.0, 5.3,
           7.7, 4.1, 11.5, 6.4, 3.0, 9.5, 5.8, 12.4, 7.0, 4.8,
           10.6, 6.2, 8.7, 3.9, 11.2, 5.6, 9.3, 7.5, 2.9, 12.0,
           6.6, 10.1, 4.5, 8.3, 0.8, 11.8, 7.2, 5.1, 9.9, 15.6,
           6.3, 12.9, 3.4, 8.9, 10.8, 5.9, 7.8, -0.9, 11.0, 4.2,
           9.4, 6.7, 13.3, 1.3, 8.0, 10.4, 4.6, 7.3, 12.2, 5.4,
           9.7, 3.2, 14.9, 7.1, 11.4, 16.0, -1.4, 8.5, 6.1, 10.3,
           4.0, 12.6, 7.9, 5.2, 9.6, 13.7, 6.8, 8.8, 14.8, 5.7,
           11.3, 3.2, 9.1, 12.7, 6.4, 10.0, 0.0, 7.7, 13.5, 4.9,
           10.8, 8.2, 6.0, 12.1, 3.8, 9.4, 7.0, 11.2, 5.3, 8.4]
err_w7 = [2.0, 1.8, 2.3, 1.9, 1.8, 4.7, 2.1, 1.9, 2.5, 2.0,
          1.8, 2.3, 1.9, 2.6, 2.1, 1.8, 2.4, 2.7, 2.0, 2.9,
          2.3, 2.6, 2.0, 3.0, 2.4, 2.1, 3.2, 2.5, 2.2, 2.8,
          2.6, 2.0, 3.0, 2.4, 3.3, 2.2, 2.8, 2.1, 3.1, 2.5,
          2.8, 2.3, 3.4, 2.6, 2.1, 3.2, 2.5, 3.5, 2.7, 2.3,
          3.3, 2.6, 3.0, 2.2, 3.4, 2.5, 3.2, 2.8, 2.0, 3.6,
          2.7, 3.3, 2.3, 3.0, 1.9, 3.5, 2.8, 2.4, 3.3, 5.4,
          2.6, 3.7, 2.2, 3.1, 3.4, 2.5, 2.9, 1.8, 3.5, 2.3,
          3.2, 2.7, 3.8, 2.0, 3.0, 3.4, 2.4, 2.9, 3.6, 2.5,
          3.3, 2.1, 4.0, 2.8, 3.6, 4.2, 2.0, 3.1, 2.6, 3.4,
          2.3, 3.7, 3.0, 2.5, 3.3, 3.8, 2.7, 3.1, 2.4, 2.4,
          3.5, 2.1, 3.2, 3.7, 2.6, 3.3, 1.9, 2.9, 3.7, 2.4,
          3.4, 3.0, 2.6, 3.6, 2.2, 3.2, 2.8, 3.4, 2.4, 3.0]
mjd_w7x = [53592.0, 53593.2, 53594.4, 53595.6, 53596.8, 53598.0, 53599.2, 53600.4, 53601.6, 53602.8,
           53604.0, 53605.2, 53606.4, 53607.6, 53608.8, 53610.0, 53611.2, 53612.4, 53613.6, 53614.8,
           53616.0, 53617.2, 53618.4, 53619.6, 53620.8, 53622.0, 53623.2, 53624.4, 53625.6, 53626.8,
           53628.0, 53629.2, 53630.4, 53631.6, 53632.8, 53634.0, 53635.2, 53636.4, 53637.6, 53638.8,
           53640.0, 53641.2, 53642.4, 53643.6, 53644.8, 53646.0, 53647.2, 53648.4, 53649.6, 53650.8,
           53652.0, 53653.2, 53654.4, 53655.0, 53660.9, 53661.6, 53662.3, 53663.0, 53663.7, 53664.4,
           53665.1, 53665.8, 53666.5, 53667.2, 53667.9, 53668.6, 53669.3, 53670.0, 53670.7, 53671.4,
           53672.1, 53672.8, 53673.5, 53674.2, 53674.9, 53675.6, 53665.9, 53669.9, 53671.7, 53673.6]
flux_w7x = [0.6, 3.0, -0.2, 1.8, 3.7, 0.4, 2.6, 1.4, 5.6, 3.9,
            6.4, 2.9, 7.0, 4.0, 5.8, 8.8, 4.3, 7.3, 5.9, 8.2,
            6.0, 9.4, 4.9, 8.0, 10.7, 7.3, 5.0, 9.8, 6.2, 8.6,
            4.0, 9.2, 6.6, 10.1, 7.5, 4.8, 11.4, 8.2, 5.6, 9.1,
            7.0, 12.5, 5.2, 8.6, 10.0, 6.3, 9.0, 4.6, 11.0, 7.6,
            8.4, 5.6, 10.5, 7.4, 6.2, 9.6, 4.4, 11.6, 7.9, 5.9,
            10.4, 8.1, 12.3, 6.7, 9.0, 5.4, 11.7, 7.2, 9.8, 4.3,
            10.0, 6.8, 12.9, 8.0, 5.6, 9.2, 13.0, 4.2, 10.9, 6.1]
err_w7x = [1.9, 2.1, 1.8, 2.0, 2.3, 1.8, 2.1, 1.9, 2.6, 2.3,
           2.7, 2.1, 2.8, 2.3, 2.5, 3.0, 2.4, 2.8, 2.5, 2.9,
           2.5, 3.1, 2.4, 2.8, 3.3, 2.7, 2.3, 3.1, 2.6, 2.9,
           2.2, 3.0, 2.6, 3.2, 2.8, 2.3, 3.4, 2.9, 2.5, 3.0,
           2.7, 3.6, 2.4, 2.9, 3.2, 2.5, 3.0, 2.2, 3.3, 2.8,
           3.0, 2.5, 3.3, 2.8, 2.6, 3.2, 2.2, 3.5, 2.9, 2.5,
           3.3, 2.9, 3.6, 2.7, 3.0, 2.4, 3.5, 2.8, 3.1, 2.2,
           3.2, 2.7, 3.8, 2.9, 2.4, 3.1, 3.8, 2.2, 3.3, 2.6]

mjd_w8 = [53773.2, 53773.8, 53774.4, 53775.0, 53775.6, 53776.2, 53776.8, 53777.4, 53778.0, 53778.6,
          53779.2, 53779.8, 53780.4, 53781.0, 53781.6, 53782.2, 53782.8, 53783.4, 53784.0, 53784.6,
          53785.2, 53785.8, 53786.4, 53787.0, 53787.6, 53788.2, 53788.8, 53789.4, 53790.0, 53790.6,
          53791.2, 53791.8, 53792.4, 53793.0, 53793.6, 53794.2, 53794.8, 53795.4, 53796.0, 53796.6,
          53797.2, 53797.8, 53798.4, 53799.0, 53799.6, 53800.2, 53800.8, 53801.4, 53802.0, 53802.6,
          53803.2, 53803.8, 53804.4, 53805.0, 53805.6, 53806.2, 53806.8, 53807.4, 53808.0, 53808.6,
          53809.2, 53809.8, 53810.4, 53811.0, 53811.6, 53812.2, 53812.8, 53813.4, 53814.6, 53815.2,
          53823.6, 53828.6, 53837.0, 53838.5, 53839.2, 53839.9, 53840.6, 53841.3, 53842.0, 53842.7,
          53843.4, 53844.1, 53844.8, 53845.5, 53846.2, 53846.9, 53847.6, 53848.3, 53849.0, 53849.7,
          53850.4, 53851.1, 53851.8, 53852.5, 53853.2, 53853.9, 53854.6, 53855.3, 53856.0, 53856.7,
          53857.4, 53858.1, 53858.8, 53859.5, 53860.2, 53860.8, 53841.6, 53847.2, 53854.2, 53858.4]
flux_w8 = [11.8, 8.4, 13.6, 10.2, 15.3, 9.1, 12.7, 7.3, 14.0, 10.9,
           8.0, 12.3, 6.2, 3.8, 11.4, 13.9, 9.6, 15.8, 7.7, 11.0,
           14.4, 9.9, 12.8, 6.9, 10.5, 16.5, 8.6, 13.1, 19.2, 11.7,
           7.5, 14.8, 10.0, 12.4, 5.8, 15.1, 9.3, 13.3, 11.2, 8.1,
           16.2, 10.7, 12.1, 7.0, 14.5, 9.8, 17.4, 21.0, 11.5, 13.8,
           8.9, 15.9, 10.3, 12.9, 6.6, 14.2, 11.1, 9.0, 16.8, 12.6,
           10.4, 13.5, 7.9, 15.2, 11.6, 9.4, 14.1, 12.0, 10.8, 16.9,
           10.2, 8.0, 2.0, 9.7, 12.8, 7.1, 14.6, 10.9, 17.5, 8.4,
           13.1, 15.4, 11.3, 20.4, 9.2, 16.3, 12.2, 18.6, 7.6, 14.0,
           10.7, 17.8, 5.7, 13.6, 19.1, 11.9, 15.0, 9.5, 16.7, 12.5,
           20.4, 14.7, 10.1, 17.1, 8.8, 13.0, 6.4, 18.0, 12.9, 15.8]
err_w8 = [2.6, 2.3, 2.8, 2.5, 3.0, 2.4, 2.7, 2.2, 2.9, 2.5,
          2.3, 2.7, 2.1, 2.0, 2.6, 2.9, 2.4, 3.1, 2.2, 2.6,
          2.9, 2.4, 2.8, 2.2, 2.5, 3.2, 2.3, 2.8, 3.4, 2.6,
          2.2, 3.0, 2.5, 2.7, 2.1, 3.0, 2.4, 2.8, 2.6, 2.3,
          3.1, 2.5, 2.7, 2.2, 2.9, 2.4, 3.2, 3.0, 2.6, 2.9,
          2.4, 3.1, 2.5, 2.8, 2.1, 2.9, 2.6, 2.3, 3.2, 2.7,
          2.5, 2.8, 2.2, 3.0, 2.6, 2.4, 2.9, 2.7, 2.5, 3.1,
          3.5, 3.2, 0.9, 2.9, 3.3, 2.6, 3.5, 3.0, 3.8, 2.7,
          3.3, 3.6, 3.1, 4.1, 2.8, 3.7, 3.2, 3.9, 2.7, 3.4,
          3.0, 3.8, 2.3, 3.4, 4.0, 3.2, 3.6, 2.9, 3.7, 3.3,
          4.8, 3.5, 3.0, 3.7, 2.8, 3.2, 2.5, 3.9, 3.3, 3.6]
mjd_w8x = [53773.5, 53774.1, 53774.7, 53775.3, 53775.9, 53776.5, 53777.1, 53777.7, 53778.3, 53778.9,
           53779.5, 53780.1, 53780.7, 53781.3, 53781.9, 53782.5, 53783.1, 53783.7, 53784.3, 53784.9,
           53785.5, 53786.1, 53786.7, 53787.3, 53787.9, 53788.5, 53789.1, 53789.7, 53790.3, 53790.9,
           53791.5, 53792.1, 53792.7, 53793.3, 53793.9, 53794.5, 53795.1, 53795.7, 53796.3, 53796.9,
           53797.5, 53798.7, 53799.9, 53801.1, 53802.3, 53803.5, 53804.7, 53805.9, 53807.1, 53808.3,
           53809.5, 53810.7, 53811.9, 53813.1, 53814.0, 53843.0, 53846.5, 53850.0, 53855.0, 53857.8]
flux_w8x = [9.7, 12.9, 7.9, 14.6, 11.1, 8.7, 13.4, 10.0, 15.6, 9.0,
            12.0, 7.1, 13.1, 10.6, 16.7, 8.2, 12.2, 10.8, 14.7, 9.4,
            11.2, 15.0, 8.0, 12.1, 14.2, 9.5, 11.6, 17.0, 10.0, 13.2,
            9.1, 12.0, 16.0, 8.6, 11.4, 13.9, 10.3, 7.8, 14.4, 12.0,
            9.6, 13.0, 11.4, 15.6, 9.6, 12.2, 14.8, 10.1, 13.0, 8.2,
            11.9, 9.0, 13.0, 10.5, 12.8, 12.0, 14.4, 16.0, 10.6, 17.6]
err_w8x = [2.5, 2.8, 2.3, 3.0, 2.6, 2.4, 2.9, 2.5, 3.1, 2.4,
           2.7, 2.2, 2.8, 2.5, 3.2, 2.3, 2.7, 2.6, 3.0, 2.4,
           2.6, 3.0, 2.3, 2.7, 2.9, 2.4, 2.6, 3.3, 2.5, 2.8,
           2.4, 2.7, 3.1, 2.3, 2.6, 2.9, 2.5, 2.2, 3.0, 2.7,
           2.4, 2.8, 2.6, 3.1, 2.4, 2.7, 3.0, 2.5, 2.8, 2.3,
           2.7, 2.4, 2.8, 2.5, 2.8, 3.3, 3.6, 3.8, 3.1, 4.0]

# reference (zero-flux) line span and axis ticks
zero_span_mjd = [52699.0, 53853.0]
mjd_ticks = [52600, 52800, 53000, 53200, 53400, 53600, 53800, 54000]
rev_ticks = [50, 75, 100, 125, 150, 175, 200, 225, 250, 275, 300, 325, 350, 375, 400, 425]
flux_ticks = [0, 5, 10, 15, 20, 25, 30, 35, 40]

windows = [
    (mjd_w1, flux_w1, err_w1), (mjd_w1x, flux_w1x, err_w1x),
    (mjd_w2, flux_w2, err_w2), (mjd_w2x, flux_w2x, err_w2x),
    (mjd_w3, flux_w3, err_w3), (mjd_w3x, flux_w3x, err_w3x),
    (mjd_w4, flux_w4, err_w4), (mjd_w4x, flux_w4x, err_w4x),
    (mjd_w5, flux_w5, err_w5), (mjd_w5x, flux_w5x, err_w5x),
    (mjd_w6, flux_w6, err_w6), (mjd_w6x, flux_w6x, err_w6x),
    (mjd_w7, flux_w7, err_w7), (mjd_w7x, flux_w7x, err_w7x),
    (mjd_w8, flux_w8, err_w8), (mjd_w8x, flux_w8x, err_w8x),
]
mjd, flux, err = [], [], []
for t, f, e in windows:
    n = min(len(t), len(f), len(e))
    mjd += t[:n]
    flux += f[:n]
    err += e[:n]

# ---- page geometry (pixels) ----
W, H = 907, 460
L, R, T, B = 62, 895, 71, 425


def px(x):
    return (x - L) / (R - L)


def py(y):
    return (B - y) / (B - T)


FONT = "DejaVu Sans Mono"
RED = "#ff0000"

fig = go.Figure()

fig.add_trace(go.Scatter(
    x=zero_span_mjd, y=[0, 0], mode="lines",
    line=dict(color="#2fb82f", width=1), hoverinfo="skip", showlegend=False,
))

fig.add_trace(go.Scatter(
    x=mjd, y=flux, mode="markers",
    marker=dict(symbol="square-open", size=4, color=RED, line=dict(width=1, color=RED)),
    error_y=dict(type="data", array=err, visible=True,
                 color="rgba(255,0,0,0.8)", thickness=1.3, width=2),
    showlegend=False,
))

# invisible trace so the revolution axis is laid out
fig.add_trace(go.Scatter(x=[rev_ticks[0]], y=[None], xaxis="x2", mode="markers",
                         showlegend=False, hoverinfo="skip"))

axis_common = dict(
    showgrid=False, zeroline=False, showline=True, linecolor="#222222", linewidth=1,
    ticks="inside", tickcolor="#222222", tickwidth=1, automargin=False,
    tickfont=dict(family=FONT, size=9, color="#111111"),
)

fig.update_layout(
    width=W, height=H,
    margin=dict(l=L, r=W - R, t=T, b=H - B, pad=0),
    paper_bgcolor="#2c4f82",
    plot_bgcolor="white",
    showlegend=False,
    xaxis=dict(range=[52600, 54000], tickvals=mjd_ticks, tickformat="d", ticklen=5,
               mirror=False, ticklabelstandoff=4, **axis_common),
    xaxis2=dict(range=[45.0, 432.0], tickvals=rev_ticks, ticklen=5, overlaying="x",
                side="top", ticklabelstandoff=3, **axis_common),
    yaxis=dict(range=[-1.84, 40.81], tickvals=flux_ticks, ticklen=11, mirror="ticks",
               ticklabelstandoff=4, **axis_common),
)


def lerp(c0, c1, a):
    return "rgb(%d,%d,%d)" % tuple(int(c0[k] + (c1[k] - c0[k]) * a) for k in range(3))


# window frame: gradient strips on top and left, white card with dark border
shapes = []
n_strip = 40
for i in range(n_strip):
    a = i / (n_strip - 1)
    shapes.append(dict(type="rect", xref="paper", yref="paper", layer="below",
                       x0=px(W * i / n_strip), x1=px(W * (i + 1) / n_strip + 1),
                       y0=py(5), y1=py(-2),
                       fillcolor=lerp((40, 74, 128), (170, 198, 222), a), line=dict(width=0)))
    shapes.append(dict(type="rect", xref="paper", yref="paper", layer="below",
                       x0=px(-2), x1=px(7),
                       y0=py(H * (i + 1) / n_strip + 1), y1=py(H * i / n_strip),
                       fillcolor=lerp((52, 88, 142), (24, 40, 68), a), line=dict(width=0)))
shapes.append(dict(type="rect", xref="paper", yref="paper", layer="below",
                   x0=px(7), x1=px(W + 10), y0=py(458), y1=py(5),
                   fillcolor="white", line=dict(color="#000000", width=2)))
fig.update_layout(shapes=shapes)

txt = dict(family=FONT, size=9, color="#111111")
fig.add_annotation(text="IBIS/ISGRI 18-60 keV Science window light-curve for GX 1+4",
                   xref="paper", yref="paper", x=px(478), y=py(22.5),
                   xanchor="center", yanchor="middle", showarrow=False, font=txt)
fig.add_annotation(text="Revolution", xref="paper", yref="paper", x=px(478), y=py(44.5),
                   xanchor="center", yanchor="middle", showarrow=False, font=txt)
fig.add_annotation(text="Date (MJD)", xref="paper", yref="paper", x=px(478), y=py(452.5),
                   xanchor="center", yanchor="middle", showarrow=False, font=txt)
fig.add_annotation(text="Flux (c/s)", xref="paper", yref="paper", x=px(31.5), y=py(246),
                   xanchor="center", yanchor="middle", showarrow=False, font=txt,
                   textangle=-90)
# last date label: the axis drops it at the page edge, so it is set flush right
fig.add_annotation(text=str(mjd_ticks[-1]), xref="paper", yref="paper", x=px(906),
                   y=py(437.5), xanchor="right", yanchor="middle", showarrow=False,
                   font=dict(family=FONT, size=9, color="#111111"))

fig.write_html("out.html", config={"displayModeBar": False})
